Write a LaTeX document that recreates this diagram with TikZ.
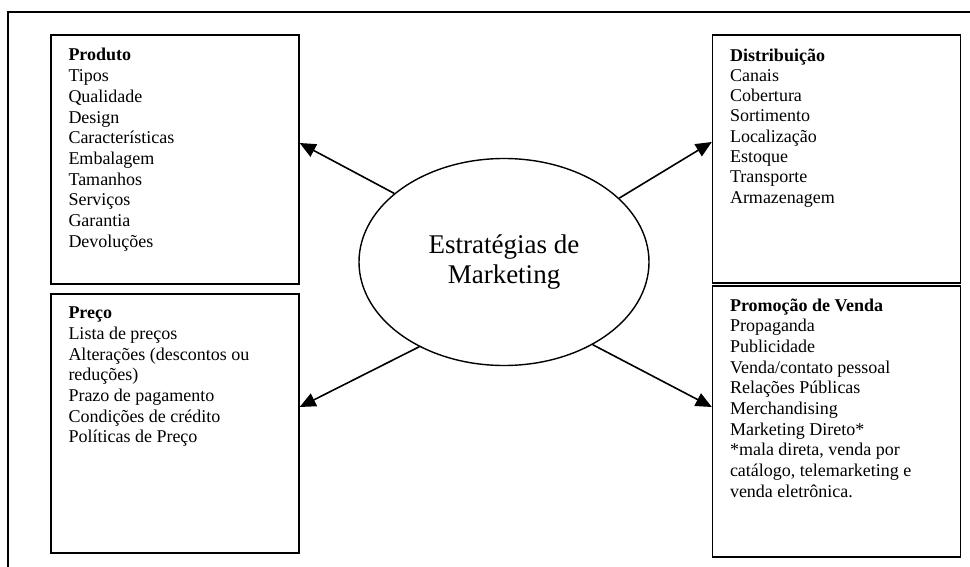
\documentclass[tikz,border=0pt]{standalone}
\usepackage{fontspec}
\setmainfont{Liberation Serif}
\usetikzlibrary{arrows.meta,positioning,shapes.geometric}

\begin{document}
\begin{tikzpicture}[
    x=1pt, y=-1pt,
    frame/.style={line width=1.6pt},
    catbox/.style={draw,line width=1.4pt,inner sep=0pt,minimum width=248pt},
    listtext/.style={align=left,inner sep=0pt,font=\fontsize{18}{20.7}\selectfont},
    hub/.style={ellipse,draw,line width=1.4pt,minimum width=290pt,minimum height=207pt,
        inner sep=0pt,align=center,font=\fontsize{27}{30}\selectfont},
    arr/.style={line width=1.6pt,-{Triangle[length=16pt,width=14pt]}}
]
\useasboundingbox (0,0) rectangle (970,567);
\draw[frame] (8,567) -- (8,12) -- (970,12);

% the four boxes
\node[catbox,minimum height=249pt] (prod) at (175,159.5) {};
\node[catbox,minimum height=259pt] (preco) at (175,423.5) {};
\node[catbox,minimum height=248pt] (dist) at (836.5,159) {};
\node[catbox,minimum height=271pt] (prom) at (836.5,421.5) {};

\node[listtext,below right=14pt and 18pt of prod.north west] (prodtext)
    {\textbf{Produto}\\Tipos\\Qualidade\\Design\\Características\\Embalagem\\Tamanhos\\Serviços\\Garantia\\Devoluções};
\node[listtext,below right=13.5pt and 18pt of preco.north west] (precotext)
    {\textbf{Preço}\\Lista de preços\\Alterações (descontos ou\\reduções)\\Prazo de pagamento\\Condições de crédito\\Políticas de Preço};
\node[listtext,below right=14pt and 18pt of dist.north west,font=\fontsize{18}{20.3}\selectfont] (disttext)
    {\textbf{Distribuição}\\Canais\\Cobertura\\Sortimento\\Localização\\Estoque\\Transporte\\Armazenagem};
\node[listtext,below right=13pt and 18pt of prom.north west] (promtext)
    {\textbf{Promoção de Venda}\\Propaganda\\Publicidade\\Venda/contato pessoal\\Relações Públicas\\Merchandising\\Marketing Direto*\\*mala direta, venda por\\catálogo, telemarketing e\\venda eletrônica.};

% centre
\node[hub] (mk) at (504,262) {Estratégias de\\Marketing};

\draw[arr] (mk.148) -- ([yshift=16.5pt]prod.east);
\draw[arr] (mk.29) -- ([yshift=17pt]dist.west);
\draw[arr] (mk.225) -- ([yshift=16.5pt]preco.east);
\draw[arr] (mk.317) -- ([yshift=14.5pt]prom.west);
\end{tikzpicture}
\end{document}
